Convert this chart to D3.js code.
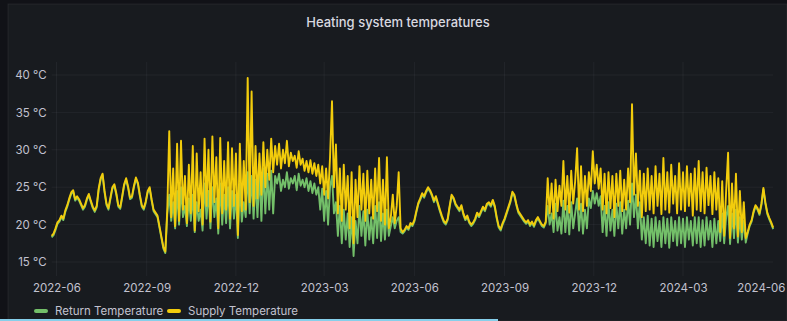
<!DOCTYPE html>
<html><head><meta charset="utf-8">
<script src="https://cdn.jsdelivr.net/npm/d3@7"></script>
<style>html,body{margin:0;padding:0;background:#111217;overflow:hidden;} svg{display:block;font-family:Inter,"Open Sans",sans-serif;}</style>
</head><body><svg id="c" width="787" height="321"></svg>
<script>
const chartTitle = "Heating system temperatures";
const seriesNames = ["Return Temperature", "Supply Temperature"];
const startDate = "2022-05-27";
const stepDays = 2;
const supplyTemp = [
18.5,18.8,19.5,20.3,20.6,21.2,20.8,21.9,22.6,23.5,
24.3,24.6,23.4,23.8,23.4,22.8,22.2,22.6,23.5,24.1,
23.2,22.4,21.9,22.5,24.8,26.2,26.8,24.5,22.8,22.2,
23.6,25.0,25.4,24.2,22.6,22.3,23.8,25.4,26.2,25.1,
23.6,23.8,25.2,26.3,25.6,24.0,22.6,22.2,23.1,24.5,
25.0,23.4,22.0,21.6,21.2,19.8,18.4,17.0,16.4,22.0,
32.5,21.0,27.5,19.8,30.8,20.5,31.2,22.0,26.5,20.2,
28.0,21.5,30.5,19.2,29.5,21.8,27.0,20.0,31.5,22.5,
30.0,20.4,31.8,23.0,29.0,19.5,31.6,21.5,28.5,22.0,
31.0,20.8,30.2,22.5,29.5,18.6,30.8,21.8,28.5,22.0,
39.6,23.0,37.8,22.5,30.5,23.5,29.5,24.0,31.0,25.0,
30.0,26.0,31.5,27.0,30.5,28.0,30.8,27.5,30.0,28.2,
31.2,27.8,29.6,28.5,29.2,27.6,29.8,28.0,28.8,27.2,
28.5,27.0,28.6,26.8,28.2,26.5,28.0,25.5,27.8,24.0,
27.5,23.5,29.0,36.5,25.0,30.7,21.5,27.5,20.5,28.0,
22.0,26.5,19.5,27.0,17.5,26.0,21.0,27.8,22.0,26.8,
20.5,27.2,21.5,26.0,20.8,27.5,21.8,28.9,20.5,26.0,
20.0,29.0,19.5,21.0,24.0,20.2,22.5,27.0,19.5,19.0,
19.3,19.8,19.5,20.2,20.0,20.6,21.8,22.9,23.5,24.2,
23.8,24.5,25.0,24.6,24.0,23.2,23.8,22.9,22.0,21.2,
20.5,20.2,20.8,22.5,24.0,23.6,22.8,22.4,22.0,22.6,
21.5,20.8,21.2,20.4,20.0,20.3,20.8,21.6,21.2,21.8,
22.4,22.0,22.8,23.0,22.6,23.3,22.5,21.0,19.8,19.4,
20.2,20.8,21.6,22.4,23.2,24.4,24.0,22.8,21.8,21.4,
21.0,20.6,20.3,20.6,20.0,20.4,19.9,20.6,21.0,20.5,
20.0,19.8,20.4,26.2,21.5,25.5,20.8,26.0,21.8,25.2,
22.5,28.5,22.0,26.5,21.6,27.2,22.8,25.8,30.2,22.0,
27.8,21.8,26.5,22.5,27.0,24.5,29.8,25.5,28.0,24.8,
27.5,22.0,26.8,21.5,27.0,22.2,26.5,21.0,26.8,22.5,
27.2,21.8,26.0,22.0,27.5,23.0,36.1,24.0,29.5,22.5,
27.2,21.0,26.8,21.8,27.5,22.0,26.5,21.5,27.8,22.5,
26.8,21.4,28.9,22.0,27.0,21.6,28.0,22.8,26.5,21.5,
28.2,22.0,27.0,21.8,27.8,22.5,26.8,21.2,27.5,22.0,
28.5,21.8,27.0,21.5,27.6,22.6,26.5,21.4,27.0,22.0,
26.2,19.0,25.8,18.5,24.5,29.6,18.2,25.5,19.5,26.8,
18.4,24.5,19.0,23.0,18.2,19.0,20.0,20.6,21.8,22.6,
22.2,21.5,22.8,24.9,23.0,21.6,20.9,20.3,19.6
];
const returnTemp = [
18.3,18.6,19.3,20.1,20.4,21.0,20.6,21.7,22.4,23.3,
24.1,24.4,23.2,23.6,23.2,22.6,22.0,22.4,23.3,23.9,
23.0,22.2,21.7,22.3,24.6,26.0,26.6,24.3,22.6,22.0,
23.4,24.8,25.2,24.0,22.4,22.1,23.6,25.2,26.0,24.9,
23.4,23.6,25.0,26.1,25.4,23.8,22.4,22.0,22.9,24.3,
24.8,23.2,21.8,21.4,21.0,19.6,18.2,16.8,16.2,21.5,
24.0,20.5,23.0,19.5,24.5,20.0,25.0,21.0,22.5,19.8,
23.5,20.5,24.0,19.0,23.0,20.5,22.0,19.2,25.5,20.8,
24.5,19.5,25.0,21.0,23.5,18.8,25.5,20.0,24.0,20.2,
25.0,19.5,24.5,20.8,24.0,18.2,25.5,20.4,23.0,21.0,
27.0,21.5,26.5,20.8,26.0,21.0,27.0,20.5,27.5,21.5,
26.8,22.0,27.2,21.5,26.5,25.5,26.8,24.5,26.0,25.0,
27.0,24.8,26.2,25.5,26.5,24.6,26.8,25.2,26.0,25.0,
26.2,24.5,25.8,24.2,25.5,24.0,25.0,22.0,24.8,20.5,
24.5,20.0,25.0,26.5,21.5,23.0,18.5,22.5,17.5,22.0,
18.0,21.5,17.0,21.0,15.8,20.5,17.5,22.5,18.5,21.8,
17.2,22.0,18.0,21.0,17.5,22.5,18.2,23.0,17.8,21.5,
18.0,22.0,18.5,19.8,21.0,19.5,20.5,21.0,19.0,18.8,
19.1,19.6,19.3,20.0,19.8,20.4,21.6,22.7,23.3,24.0,
23.6,24.3,24.8,24.4,23.8,23.0,23.6,22.7,21.8,21.0,
20.3,20.0,20.6,22.3,23.8,23.4,22.6,22.2,21.8,22.4,
21.3,20.6,21.0,20.2,19.8,20.1,20.6,21.4,21.0,21.6,
22.2,21.8,22.6,22.8,22.4,23.1,22.3,20.8,19.6,19.2,
20.0,20.6,21.4,22.2,23.0,24.2,23.8,22.6,21.6,21.2,
20.8,20.4,20.1,20.4,19.8,20.2,19.7,20.4,20.8,20.3,
19.8,19.6,20.2,22.5,20.0,21.5,19.0,22.8,19.2,21.0,
18.8,23.2,19.0,22.5,18.7,23.0,19.5,21.5,23.5,19.2,
22.8,18.8,22.0,19.5,23.5,22.2,24.5,22.8,24.2,22.5,
23.8,19.0,22.5,18.5,23.0,19.2,22.0,18.5,22.8,19.5,
23.0,18.8,22.0,19.5,23.2,20.0,25.5,21.0,24.0,19.5,
23.0,18.0,21.0,17.5,21.2,17.2,20.8,17.0,21.0,17.8,
20.5,17.0,21.0,17.5,20.8,16.9,21.0,17.8,20.5,17.2,
21.0,17.5,20.8,17.0,21.0,18.0,20.5,17.2,21.0,17.5,
21.0,17.0,20.6,17.2,21.0,18.0,20.5,17.0,20.8,17.5,
20.5,17.8,21.5,17.5,21.0,22.5,17.4,21.5,18.2,22.0,
17.6,21.0,18.0,20.5,17.6,18.8,19.8,20.4,21.6,22.4,
22.0,21.3,22.6,24.7,22.8,21.4,20.7,20.1,19.4
];
const yTickValues = [15, 20, 25, 30, 35, 40];
const xTickDates = ["2022-06-01","2022-09-01","2022-12-01","2023-03-01","2023-06-01","2023-09-01","2023-12-01","2024-03-01","2024-06-01"];
const xTickLabels = ["2022-06","2022-09","2022-12","2023-03","2023-06","2023-09","2023-12","2024-03","2024-06"];
const colors = {ret: "#73BF69", sup: "#F2CC0C", text: "#c2c2cf", grid: "rgba(204,204,220,0.06)"};

const parse = d3.utcParse("%Y-%m-%d");
const t0 = parse(startDate);
const dates = supplyTemp.map((_, i) => d3.utcDay.offset(t0, i * stepDays));
const svg = d3.select("#c");

svg.append("rect").attr("x", 8).attr("y", 4).attr("width", 779).attr("height", 317)
  .attr("fill", "#181b1f").attr("stroke", "rgba(204,204,220,0.08)");

const x = d3.scaleUtc().domain([dates[0], dates[dates.length - 1]]).range([51.6, 773.2]);
const y = d3.scaleLinear().domain([15, 40]).range([262, 75]);

svg.append("text").attr("x", 398).attr("y", 27).attr("text-anchor", "middle")
  .attr("fill", "#d8d9e0").attr("font-size", 13).attr("font-weight", 500).text(chartTitle);

// grid
const grid = svg.append("g");
grid.selectAll("line.h").data(yTickValues).join("line")
  .attr("x1", 51.6).attr("x2", 773.2).attr("y1", d => y(d)).attr("y2", d => y(d))
  .attr("stroke", colors.grid);
grid.selectAll("line.v").data(xTickDates.slice(0, 8)).join("line")
  .attr("x1", d => x(parse(d))).attr("x2", d => x(parse(d))).attr("y1", 62).attr("y2", 276)
  .attr("stroke", colors.grid);

// axes
const yAxis = svg.append("g").attr("transform", "translate(51.6,0)")
  .call(d3.axisLeft(y).tickValues(yTickValues).tickFormat(d => d + " °C").tickSize(0).tickPadding(5));
yAxis.select(".domain").remove();
yAxis.selectAll("text").attr("fill", colors.text).attr("font-size", 11.5).attr("font-family", "Inter, sans-serif");

const xAxis = svg.append("g").attr("transform", "translate(0,278)")
  .call(d3.axisBottom(x).tickValues(xTickDates.map(parse)).tickFormat((d, i) => xTickLabels[i]).tickSize(0).tickPadding(6));
xAxis.select(".domain").remove();
xAxis.selectAll("text").attr("fill", colors.text).attr("font-size", 11.5).attr("font-family", "Inter, sans-serif");
// keep the last label inside the panel
xAxis.selectAll(".tick").filter((d, i) => i === xTickLabels.length - 1)
  .select("text").attr("text-anchor", "end").attr("x", 785 - x(parse(xTickDates[xTickDates.length - 1])));

// lines
const line = d3.line().x((d, i) => x(dates[i])).y(d => y(d)).curve(d3.curveLinear);
svg.append("path").datum(returnTemp).attr("d", line).attr("fill", "none")
  .attr("stroke", colors.ret).attr("stroke-width", 1.9).attr("stroke-linejoin", "round");
svg.append("path").datum(supplyTemp).attr("d", line).attr("fill", "none")
  .attr("stroke", colors.sup).attr("stroke-width", 1.9).attr("stroke-linejoin", "round");

// legend
const legend = svg.append("g").attr("transform", "translate(0,311)");
const legItems = [{name: seriesNames[0], c: colors.ret, x: 34}, {name: seriesNames[1], c: colors.sup, x: 167}];
legItems.forEach(it => {
  legend.append("rect").attr("x", it.x).attr("y", -2).attr("width", 14).attr("height", 4).attr("rx", 2).attr("fill", it.c);
  legend.append("text").attr("x", it.x + 21).attr("y", 0).attr("dy", "0.35em")
    .attr("fill", colors.text).attr("font-size", 11.5).text(it.name);
});

// bottom highlight bar
svg.append("rect").attr("x", 0).attr("y", 319).attr("width", 498).attr("height", 2).attr("fill", "#86cfea");
</script></body></html>
